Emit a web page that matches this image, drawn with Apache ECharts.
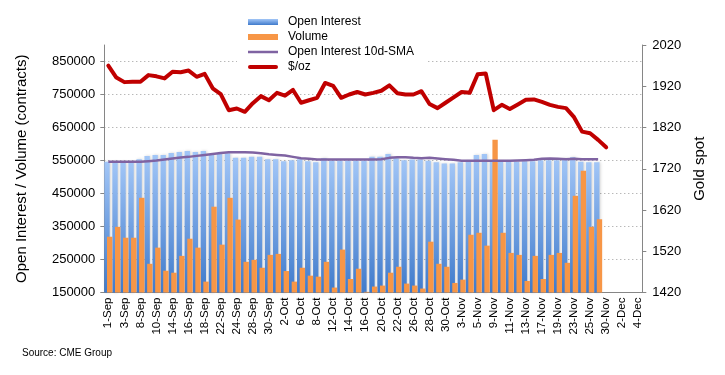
<!DOCTYPE html>
<html>
<head>
<meta charset="utf-8">
<script src="https://cdn.jsdelivr.net/npm/echarts@6/dist/echarts.min.js"></script>
<style>
  html, body { margin: 0; padding: 0; background: #fff; }
  #chart { width: 725px; height: 375px; }
</style>
</head>
<body>
<div id="chart"></div>
<script>
// trading days, Sep - early Dec
const dates = [
  '1-Sep', '2-Sep', '3-Sep', '4-Sep', '8-Sep', '9-Sep', '10-Sep', '11-Sep', '14-Sep', '15-Sep',
  '16-Sep', '17-Sep', '18-Sep', '21-Sep', '22-Sep', '23-Sep', '24-Sep', '25-Sep', '28-Sep', '29-Sep',
  '30-Sep', '1-Oct', '2-Oct', '5-Oct', '6-Oct', '7-Oct', '8-Oct', '9-Oct', '12-Oct', '13-Oct',
  '14-Oct', '15-Oct', '16-Oct', '19-Oct', '20-Oct', '21-Oct', '22-Oct', '23-Oct', '26-Oct', '27-Oct',
  '28-Oct', '29-Oct', '30-Oct', '2-Nov', '3-Nov', '4-Nov', '5-Nov', '6-Nov', '9-Nov', '10-Nov',
  '11-Nov', '12-Nov', '13-Nov', '16-Nov', '17-Nov', '18-Nov', '19-Nov', '20-Nov', '23-Nov', '24-Nov',
  '25-Nov', '27-Nov', '30-Nov', '1-Dec', '2-Dec', '3-Dec', '4-Dec'
]

// contracts, thousands
const openInterest = [
  546, 546, 546, 546, 554, 564, 567, 567, 573, 576,
  579, 576, 579, 569, 573, 572, 558, 558, 561, 561,
  554, 554, 548, 551, 554, 548, 545, 557, 549, 549,
  549, 549, 549, 561, 561, 570, 557, 551, 553, 553,
  549, 545, 541, 541, 545, 548, 567, 570, 548, 546,
  546, 546, 548, 548, 551, 551, 551, 556, 560, 546,
  545, 545
]

const volume = [
  319, 349, 316, 316, 437, 237, 286, 216, 210, 261,
  313, 286, 183, 410, 295, 437, 371, 243, 249, 225,
  264, 267, 215, 183, 225, 201, 198, 243, 165, 280,
  191, 222, 152, 168, 171, 210, 228, 177, 171, 162,
  304, 237, 228, 179, 189, 325, 331, 292, 613, 331,
  270, 264, 185, 261, 191, 264, 270, 240, 443, 519,
  349, 372
]

const oiSma = [
  546, 546, 546, 546, 546, 548, 550, 553, 556, 559,
  561, 564, 567, 570, 573, 575, 575, 575, 574, 572,
  569, 567, 565, 561, 557, 555, 553, 553, 553, 553,
  553, 553, 553, 553, 554, 558, 560, 560, 558, 557,
  558, 556, 554, 552, 549, 549, 549, 549, 549, 549,
  549, 550, 551, 552, 555, 556, 555, 554, 555, 554,
  554, 554
]

// $/oz
const goldSpot = [
  1970, 1941, 1930, 1931, 1931, 1947, 1944, 1939, 1955, 1954,
  1958, 1943, 1950, 1915, 1901, 1862, 1866, 1858, 1879, 1896,
  1886, 1904, 1897, 1911, 1880, 1886, 1892, 1928, 1921, 1892,
  1900, 1906, 1900, 1904, 1909, 1922, 1903, 1900, 1900, 1908,
  1877, 1867, 1880, 1893, 1906, 1904, 1949, 1951, 1862, 1875,
  1865, 1876, 1887, 1888, 1882, 1875, 1870, 1867, 1845, 1810,
  1806, 1790, 1772
]

const k = (arr) => arr.map(v => v * 1000)

const font = 'Liberation Sans, Arial, sans-serif'
const catWidth = (725 - 104.3 - 82.7) / dates.length
const plain = (v) => String(v)

const chart = echarts.init(document.getElementById('chart'))

chart.setOption({
  animation: false,
  textStyle: { fontFamily: font, color: '#000' },
  grid: { left: 104.3, right: 82.7, top: 45, bottom: 82.5 },
  title: {
    text: 'Source: CME Group',
    left: 17,
    top: 343,
    textStyle: { fontSize: 10, fontWeight: 'normal', color: '#000', fontFamily: font }
  },
  legend: {
    orient: 'vertical',
    left: 237,
    top: 10,
    padding: [6, 12, 6, 11],
    backgroundColor: '#fff',
    itemWidth: 30,
    itemHeight: 6,
    itemGap: 3,
    z: 10,
    textStyle: { fontSize: 12, color: '#000', fontFamily: font, padding: [0, 0, 0, 5] },
    data: [
      { name: 'Open Interest', icon: 'rect' },
      { name: 'Volume', icon: 'rect' },
      { name: 'Open Interest 10d-SMA', icon: 'path://M0,0H60V5H0Z' },
      { name: '$/oz', icon: 'path://M4,0H56A4,4 0 0 1 56,8H4A4,4 0 0 1 4,0Z' }
    ]
  },
  xAxis: {
    type: 'category',
    data: dates,
    axisLine: { lineStyle: { color: '#868686' } },
    axisTick: { interval: 0, length: 4, lineStyle: { color: '#868686' } },
    axisLabel: { interval: 1, rotate: 90, fontSize: 11.5, color: '#000', margin: 5 }
  },
  yAxis: [
    {
      type: 'value',
      min: 150000,
      max: 900000,
      interval: 100000,
      name: 'Open Interest / Volume (contracts)',
      nameLocation: 'middle',
      nameGap: 75,
      nameTextStyle: { fontSize: 15, color: '#000' },
      axisLine: { show: true, lineStyle: { color: '#868686' } },
      axisTick: { show: true, length: 4, lineStyle: { color: '#868686' } },
      axisLabel: { fontSize: 13, color: '#000', margin: 9, showMaxLabel: false, formatter: plain },
      splitLine: {
        show: true,
        showMaxLine: false,
        lineStyle: { color: '#9a9a9a', type: [1, 3] }
      }
    },
    {
      type: 'value',
      min: 1420,
      max: 2020,
      interval: 100,
      name: 'Gold spot',
      nameLocation: 'middle',
      nameGap: 48,
      nameRotate: 90,
      nameTextStyle: { fontSize: 15, color: '#000' },
      axisLine: { show: true, lineStyle: { color: '#868686' } },
      axisTick: { show: true, length: 4, lineStyle: { color: '#868686' } },
      axisLabel: { fontSize: 13, color: '#000', margin: 10, formatter: plain },
      splitLine: { show: false }
    }
  ],
  series: [
    {
      name: 'Open Interest',
      type: 'bar',
      barWidth: catWidth * 2 / 3,
      barGap: '-50%',
      itemStyle: {
        color: new echarts.graphic.LinearGradient(0, 0, 0, 1, [
          { offset: 0, color: '#a2c6f7' },
          { offset: 1, color: '#3f7acb' }
        ]),
        shadowColor: 'rgba(0,0,0,0.18)',
        shadowBlur: 3,
        shadowOffsetX: 1
      },
      data: k(openInterest)
    },
    {
      name: 'Volume',
      type: 'bar',
      barWidth: catWidth * 2 / 3,
      itemStyle: { color: '#f79646' },
      data: k(volume)
    },
    {
      name: 'Open Interest 10d-SMA',
      type: 'line',
      symbol: 'none',
      z: 5,
      itemStyle: { color: '#7f63a2' },
      lineStyle: { color: '#7f63a2', width: 2.5 },
      data: k(oiSma)
    },
    {
      name: '$/oz',
      type: 'line',
      yAxisIndex: 1,
      symbol: 'none',
      z: 6,
      itemStyle: { color: '#c00000' },
      lineStyle: { color: '#c00000', width: 4, cap: 'round', join: 'round' },
      data: goldSpot
    }
  ]
})
</script>
</body>
</html>
